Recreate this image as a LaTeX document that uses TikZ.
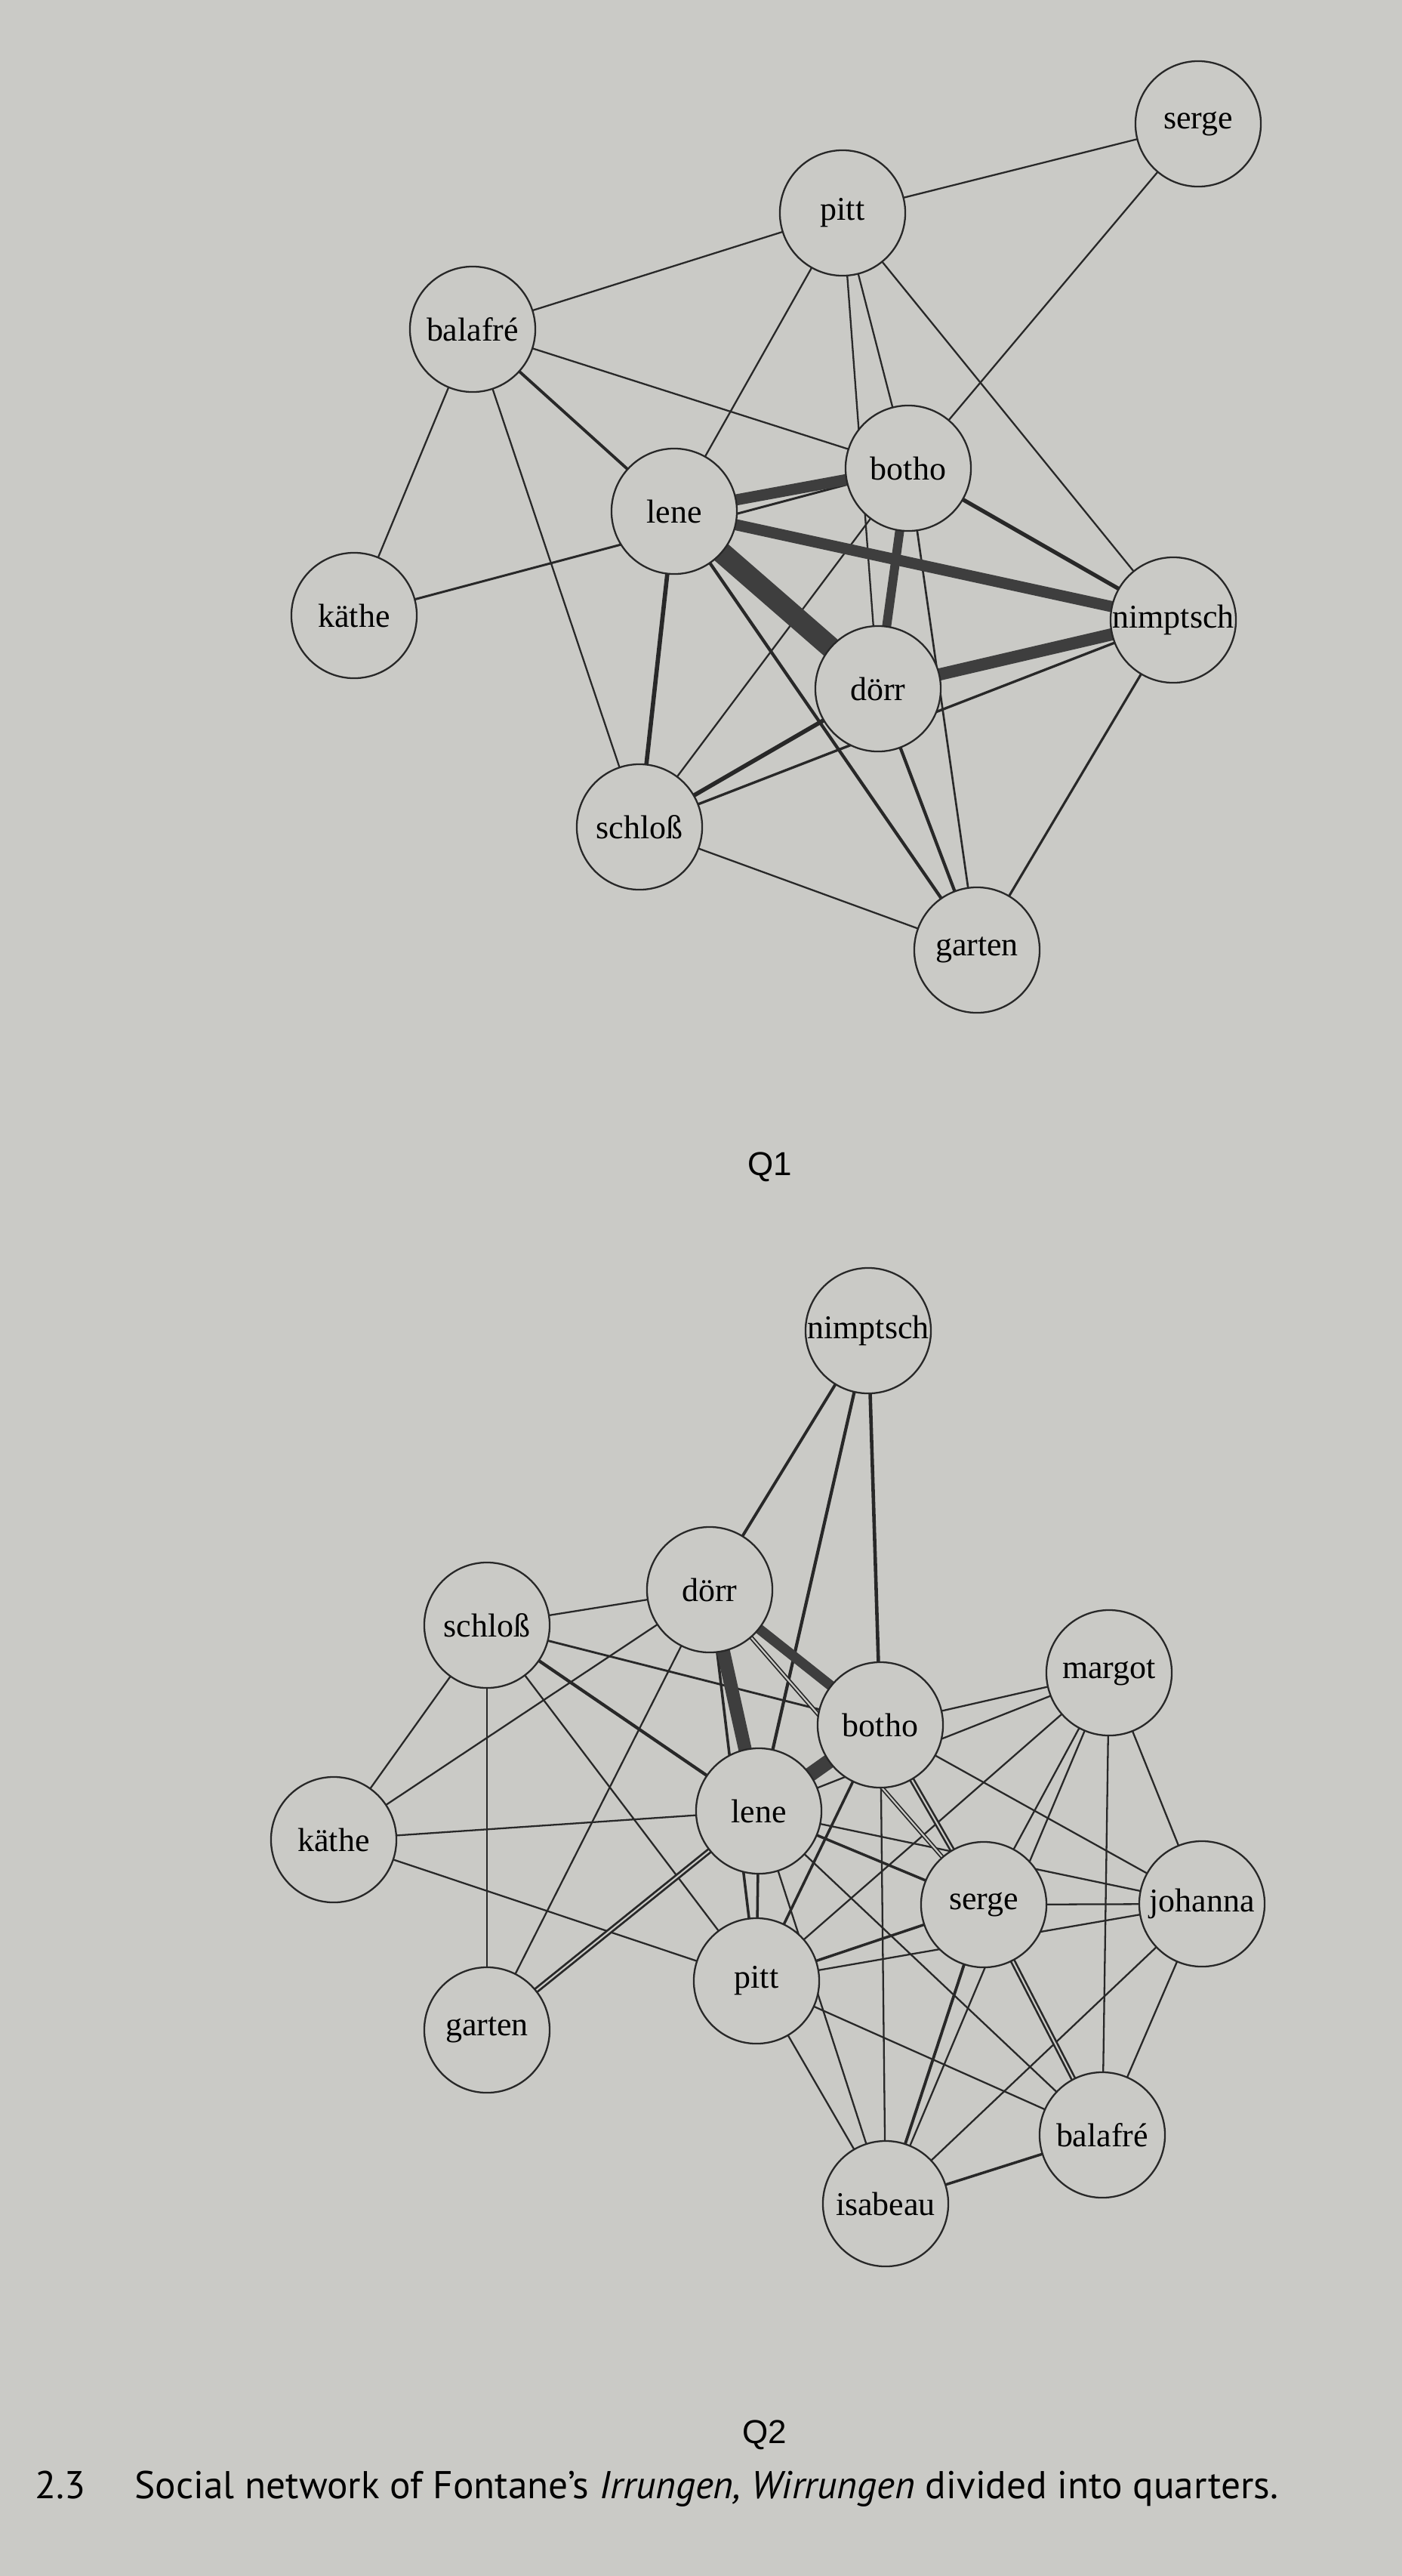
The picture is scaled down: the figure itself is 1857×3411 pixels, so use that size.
\documentclass[tikz,border=0pt]{standalone}
\usepackage{fontspec}
\usepackage{tikz}
\setmainfont{Liberation Serif}
\newfontfamily\capfont{PT Sans}
\newfontfamily\qfont{Liberation Sans}
\definecolor{paper}{RGB}{202,202,198}
\definecolor{ink}{RGB}{40,40,40}
\definecolor{bandgray}{RGB}{62,62,62}
\pgfdeclarelayer{ties}
\pgfsetlayers{ties,main}
\tikzstyle{person} = [circle, draw=ink, line width=0.65pt, fill=paper, minimum size=1.66cm, inner sep=0pt, font=\fontsize{12.5}{14}\selectfont]
\tikzstyle{qlabel} = [anchor=base, inner sep=0pt, font=\qfont\fontsize{12.5}{14}\selectfont]
\tikzstyle{captext} = [anchor=base west, inner sep=0pt, font=\capfont\fontsize{14.6}{16}\selectfont]
\tikzset{
  tie/.style={draw=ink, line width=#1pt},
  heavy/.style={draw=bandgray, line width=#1pt},
  twin/.style={draw=ink, line width=#1pt, double=paper, double distance=0.6pt} % two close parallel strokes
}

\begin{document}
\begin{tikzpicture}[x=0.01cm, y=-0.01cm]
  \useasboundingbox (0,0) rectangle (1857,3411);

  % Q1
  \node (serge1)[person] at (1587,164) {serge};
  \node (pitt1)[person] at (1116,282) {pitt};
  \node (balafre1)[person] at (626,436) {balafré};
  \node (botho1)[person] at (1203,620) {botho};
  \node (lene1)[person] at (893,677) {lene};
  \node (kathe1)[person] at (469,815) {käthe};
  \node (nimptsch1)[person] at (1554,821) {nimptsch};
  \node (dorr1)[person] at (1163,912) {dörr};
  \node (schloss1)[person] at (847,1095) {schloß};
  \node (garten1)[person] at (1294,1258) {garten};
  \node (q1)[qlabel] at (1020,1556) {Q1};

  % Q2
  \node (nimptsch2)[person] at (1150,1762) {nimptsch};
  \node (dorr2)[person] at (940,2105) {dörr};
  \node (schloss2)[person] at (645,2152) {schloß};
  \node (botho2)[person] at (1166,2284) {botho};
  \node (margot2)[person] at (1469,2215) {margot};
  \node (lene2)[person] at (1005,2398) {lene};
  \node (kathe2)[person] at (442,2436) {käthe};
  \node (serge2)[person] at (1303,2522) {serge};
  \node (johanna2)[person] at (1592,2521) {johanna};
  \node (pitt2)[person] at (1002,2623) {pitt};
  \node (garten2)[person] at (645,2688) {garten};
  \node (balafre2)[person] at (1460,2827) {balafré};
  \node (isabeau2)[person] at (1173,2918) {isabeau};
  \node (q2)[qlabel] at (1013,3235) {Q2};

  \node (num)[captext] at (46,3308) {2.3};
  \node (caption)[captext] at (178,3308)
    {Social network of Fontane’s \textit{Irrungen, Wirrungen} divided into quarters.};

  \begin{pgfonlayer}{ties}
    \fill[paper] (0,0) rectangle (1857,3411);

    % Q1 ties, centre to centre, hidden under the circles
    \draw[tie=0.65] (pitt1.center) -- (serge1.center);
    \draw[tie=0.65] (pitt1.center) -- (balafre1.center);
    \draw[tie=0.65] (pitt1.center) -- (lene1.center);
    \draw[tie=0.65] (pitt1.center) -- (botho1.center);
    \draw[tie=0.65] (pitt1.center) -- (dorr1.center);
    \draw[tie=0.65] (pitt1.center) -- (nimptsch1.center);
    \draw[tie=0.65] (serge1.center) -- (botho1.center);
    \draw[tie=0.65] (balafre1.center) -- (botho1.center);
    \draw[tie=0.65] (balafre1.center) -- (kathe1.center);
    \draw[tie=0.65] (balafre1.center) -- (schloss1.center);
    \draw[tie=0.65] (botho1.center) -- (schloss1.center);
    \draw[tie=0.65] (schloss1.center) -- (garten1.center);
    \draw[tie=0.75] (botho1.center) -- (garten1.center);
    \draw[tie=0.85] (kathe1.center) -- (botho1.center);
    \draw[tie=1.1] (balafre1.center) -- (lene1.center);
    \draw[tie=0.95] (schloss1.center) -- (nimptsch1.center);
    \draw[tie=0.9] (nimptsch1.center) -- (garten1.center);
    \draw[tie=1.2] (lene1.center) -- (garten1.center);
    \draw[tie=1.2] (dorr1.center) -- (garten1.center);
    \draw[tie=1.6] (lene1.center) -- (schloss1.center);
    \draw[tie=1.6] (dorr1.center) -- (schloss1.center);
    \draw[tie=1.5] (botho1.center) -- (nimptsch1.center);
    \draw[heavy=3.4] (botho1.center) -- (dorr1.center);
    \draw[heavy=4.2] (lene1.center) -- (botho1.center);
    \draw[heavy=4.2] (lene1.center) -- (nimptsch1.center);
    \draw[heavy=4.6] (dorr1.center) -- (nimptsch1.center);
    \draw[heavy=8] (lene1.center) -- (dorr1.center);

    % Q2 ties
    \draw[tie=0.65] (dorr2.center) -- (schloss2.center);
    \draw[tie=0.65] (dorr2.center) -- (kathe2.center);
    \draw[tie=0.65] (dorr2.center) -- (garten2.center);
    \draw[tie=0.65] (schloss2.center) -- (kathe2.center);
    \draw[tie=0.65] (schloss2.center) -- (garten2.center);
    \draw[tie=0.65] (schloss2.center) -- (pitt2.center);
    \draw[tie=0.65] (kathe2.center) -- (lene2.center);
    \draw[tie=0.65] (kathe2.center) -- (pitt2.center);
    \draw[tie=0.65] (lene2.center) -- (johanna2.center);
    \draw[tie=0.65] (lene2.center) -- (balafre2.center);
    \draw[tie=0.65] (lene2.center) -- (margot2.center);
    \draw[tie=0.65] (lene2.center) -- (isabeau2.center);
    \draw[tie=0.65] (botho2.center) -- (margot2.center);
    \draw[tie=0.65] (botho2.center) -- (johanna2.center);
    \draw[tie=0.65] (botho2.center) -- (isabeau2.center);
    \draw[tie=0.65] (margot2.center) -- (serge2.center);
    \draw[tie=0.65] (margot2.center) -- (isabeau2.center);
    \draw[tie=0.65] (margot2.center) -- (pitt2.center);
    \draw[tie=0.65] (margot2.center) -- (johanna2.center);
    \draw[tie=0.65] (margot2.center) -- (balafre2.center);
    \draw[tie=0.65] (serge2.center) -- (johanna2.center);
    \draw[tie=0.65] (pitt2.center) -- (johanna2.center);
    \draw[tie=0.65] (pitt2.center) -- (balafre2.center);
    \draw[tie=0.65] (pitt2.center) -- (isabeau2.center);
    \draw[tie=0.65] (johanna2.center) -- (isabeau2.center);
    \draw[tie=0.65] (johanna2.center) -- (balafre2.center);
    \draw[tie=0.8] (schloss2.center) -- (botho2.center);
    \draw[tie=1.0] (dorr2.center) -- (pitt2.center);
    \draw[tie=1.0] (lene2.center) -- (pitt2.center);
    \draw[tie=1.0] (lene2.center) -- (serge2.center);
    \draw[tie=1.0] (botho2.center) -- (pitt2.center);
    \draw[tie=1.0] (pitt2.center) -- (serge2.center);
    \draw[tie=1.0] (balafre2.center) -- (isabeau2.center);
    \draw[tie=1.1] (nimptsch2.center) -- (dorr2.center);
    \draw[tie=1.1] (serge2.center) -- (isabeau2.center);
    \draw[tie=1.2] (nimptsch2.center) -- (lene2.center);
    \draw[tie=1.2] (schloss2.center) -- (lene2.center);
    \draw[tie=1.3] (nimptsch2.center) -- (botho2.center);
    \draw[twin=0.5] (dorr2.center) -- (serge2.center);
    \draw[twin=0.8] (lene2.center) -- (garten2.center);
    \draw[twin=0.75] (botho2.center) -- (serge2.center);
    \draw[twin=0.75] (serge2.center) -- (balafre2.center);
    \draw[heavy=3.8] (dorr2.center) -- (botho2.center);
    \draw[heavy=5] (dorr2.center) -- (lene2.center);
    \draw[heavy=5.5] (lene2.center) -- (botho2.center);
  \end{pgfonlayer}
\end{tikzpicture}
\end{document}
